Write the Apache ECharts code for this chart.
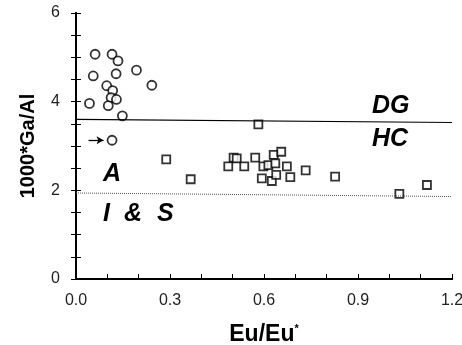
<!DOCTYPE html>
<html>
<head>
<meta charset="utf-8">
<script src="https://cdn.jsdelivr.net/npm/echarts@6/dist/echarts.min.js"></script>
<style>
  html, body { margin: 0; padding: 0; background: #fff; }
  #chart { width: 462px; height: 345px; }
</style>
</head>
<body>
<div id="chart"></div>
<script>
// circles (A-type samples), [Eu/Eu*, 1000*Ga/Al]
var circleData = [
    [0.061, 5.07], [0.115, 5.07], [0.134, 4.92], [0.055, 4.58], [0.128, 4.63],
    [0.193, 4.71], [0.242, 4.37], [0.098, 4.36], [0.117, 4.25], [0.112, 4.09],
    [0.129, 4.05], [0.103, 3.91], [0.043, 3.96], [0.148, 3.68], [0.115, 3.13]
];
// squares
var squareData = [
    [0.582, 3.49], [0.288, 2.70], [0.366, 2.25], [0.486, 2.54], [0.503, 2.74],
    [0.513, 2.72], [0.537, 2.54], [0.572, 2.74], [0.598, 2.54], [0.631, 2.80],
    [0.655, 2.87], [0.614, 2.57], [0.636, 2.61], [0.673, 2.54], [0.593, 2.27],
    [0.625, 2.21], [0.639, 2.35], [0.684, 2.30], [0.733, 2.45], [0.827, 2.31],
    [1.032, 1.92], [1.120, 2.12]
];
// boundary lines
var dgLine = [[0, 3.60], [1.2, 3.53]];
var isLine = [[0, 1.94], [1.2, 1.86]];
var arrowFrom = [0.04, 3.13];
var arrowTo = [0.088, 3.13];

var myChart = echarts.init(document.getElementById('chart'));
var labelFont = 'Liberation Sans';
var zoneFont = 'italic bold 25px "Liberation Sans"';

var option = {
    animation: false,
    grid: { left: 76, right: 10, top: 13, bottom: 66, outerBoundsMode: 'none', containLabel: false },
    xAxis: [{
        type: 'value', min: 0, max: 1.2, interval: 0.3,
        name: 'Eu/Eu{s|*}', nameLocation: 'middle', nameGap: 44,
        nameTextStyle: {
            fontFamily: labelFont, fontWeight: 'bold', fontSize: 23, color: '#000',
            rich: { s: { fontSize: 11, fontWeight: 'bold', verticalAlign: 'top', padding: [0, 0, 12, 0] } }
        },
        axisLine: { onZero: false, lineStyle: { color: '#000', width: 2 } },
        axisTick: { inside: true, length: 5, lineStyle: { color: '#000' } },
        minorTick: { show: true, splitNumber: 3, length: 5, lineStyle: { color: '#000' } },
        axisLabel: {
            margin: 14, fontFamily: labelFont, fontSize: 16, color: '#222',
            formatter: function (v) { return v.toFixed(1); }
        },
        splitLine: { show: false }
    }, {
        type: 'value', min: 0, max: 1.2, position: 'top',
        axisLine: { show: true, lineStyle: { color: '#000', width: 2 } },
        axisTick: { show: false }, axisLabel: { show: false }, splitLine: { show: false }
    }],
    yAxis: [{
        type: 'value', min: 0, max: 6, interval: 2,
        name: '1000*Ga/Al', nameLocation: 'middle', nameGap: 38,
        nameTextStyle: { fontFamily: labelFont, fontWeight: 'bold', fontSize: 20, color: '#000' },
        axisLine: { onZero: false, lineStyle: { color: '#000', width: 2 } },
        axisTick: { inside: true, length: 5, lineStyle: { color: '#000' } },
        minorTick: { show: true, splitNumber: 4, length: 5, lineStyle: { color: '#000' } },
        axisLabel: { margin: 16, fontFamily: labelFont, fontSize: 16, color: '#222' },
        splitLine: { show: false }
    }, {
        type: 'value', min: 0, max: 6, interval: 2, position: 'right',
        axisLine: { show: true, lineStyle: { color: '#000', width: 2 } },
        axisTick: { inside: true, length: 5, lineStyle: { color: '#000' } },
        minorTick: { show: true, splitNumber: 4, length: 5, lineStyle: { color: '#000' } },
        axisLabel: { show: false }, splitLine: { show: false }
    }],
    series: [{
        type: 'line', data: dgLine, symbol: 'none', silent: true,
        lineStyle: { color: '#000', width: 1.2 }
    }, {
        type: 'line', data: isLine, symbol: 'none', silent: true,
        lineStyle: { color: '#555', width: 1, type: [1, 1] }
    }, {
        type: 'scatter', data: circleData, symbol: 'circle', symbolSize: 9,
        itemStyle: { color: '#fff', borderColor: '#000', borderWidth: 1.8 },
        markLine: {
            silent: true, symbol: ['none', 'arrow'], symbolSize: [6, 7],
            label: { show: false },
            lineStyle: { color: '#000', width: 1.3, type: 'solid' },
            data: [[{ coord: arrowFrom }, { coord: arrowTo }]]
        }
    }, {
        type: 'scatter', data: squareData, symbol: 'rect', symbolSize: 8,
        itemStyle: { color: '#fff', borderColor: '#000', borderWidth: 1.8 }
    }],
    graphic: [
        { type: 'text', left: 372, top: 94, style: { text: 'DG', font: zoneFont, fill: '#000' } },
        { type: 'text', left: 372, top: 127, style: { text: 'HC', font: zoneFont, fill: '#000' } },
        { type: 'text', left: 103, top: 162, style: { text: 'A', font: zoneFont, fill: '#000' } },
        { type: 'text', left: 103, top: 202, style: { text: 'I', font: zoneFont, fill: '#000' } },
        { type: 'text', left: 124, top: 202, style: { text: '&', font: zoneFont, fill: '#000' } },
        { type: 'text', left: 157, top: 202, style: { text: 'S', font: zoneFont, fill: '#000' } }
    ]
};

myChart.setOption(option);
</script>
</body>
</html>
